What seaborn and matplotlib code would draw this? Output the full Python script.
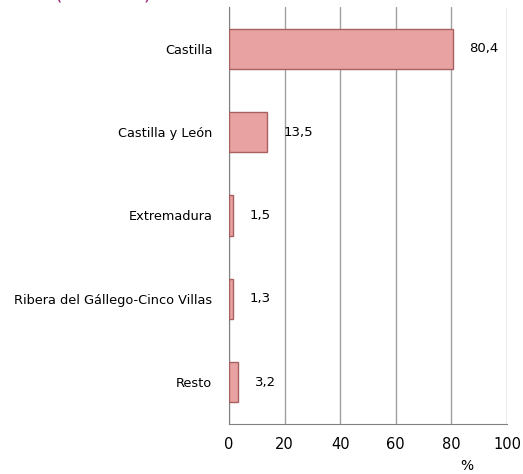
import pandas as pd
import matplotlib.pyplot as plt
import seaborn as sns

# data
regiones = ["Castilla", "Castilla y León", "Extremadura",
            "Ribera del Gállego-Cinco Villas", "Resto"]
valores = [80.4, 13.5, 1.5, 1.3, 3.2]
etiquetas = ["80,4", "13,5", "1,5", "1,3", "3,2"]

df = pd.DataFrame({"Region": regiones, "Pct": valores})

sns.set_style("white")
plt.rcParams["font.family"] = ["DejaVu Sans"]
plt.rcParams["text.color"] = "black"
plt.rcParams["xtick.labelcolor"] = "black"
plt.rcParams["ytick.labelcolor"] = "black"

fig = plt.figure(figsize=(5.23, 4.74), dpi=100)
ax = fig.add_axes([229 / 523, 50 / 474, 278 / 523, 417 / 474])

sns.barplot(data=df, x="Pct", y="Region", color="#E8A2A2", width=0.48,
            edgecolor="#A86060", linewidth=1.0, ax=ax, zorder=3, saturation=1)

ax.set_xlim(0, 100)
ax.set_ylim(4.5, -0.5)
ax.set_xticks(range(0, 101, 20))
ax.set_yticks([i - 0.5 for i in range(6)], minor=True)
ax.tick_params(axis="y", which="major", length=0, pad=12, labelsize=9.3)
ax.tick_params(axis="y", which="minor", length=6, color="#808080", direction="out")
ax.tick_params(axis="x", length=6, color="#808080", direction="out", labelsize=10.5)
ax.grid(axis="x", color="#A0A0A0", linewidth=1, zorder=0)

for s in ["top", "right"]:
    ax.spines[s].set_visible(False)
for s in ["left", "bottom"]:
    ax.spines[s].set_color("#808080")

ax.set_ylabel("")
ax.set_xlabel("%", fontsize=10, color="black")
ax.xaxis.set_label_coords(0.855, -0.083)

for i, (v, t) in enumerate(zip(valores, etiquetas)):
    ax.annotate(t, (v, i), xytext=(12, 0), textcoords="offset points",
                va="center", ha="left", fontsize=9.5, color="black")

# trozo del título recortado arriba
fig.text(0.105, 1.012, "(             )", color="#A0287A",
         fontsize=14, va="center")

fig.savefig("out.png", dpi=100)
